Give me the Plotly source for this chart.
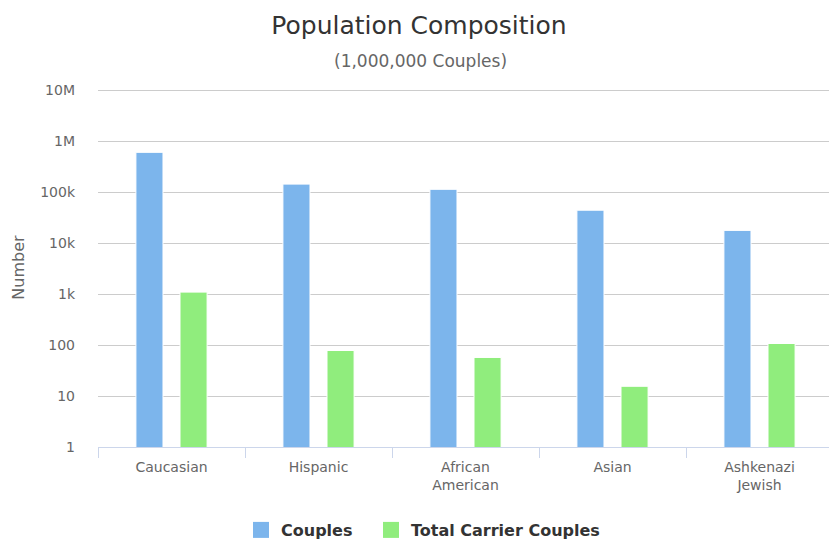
import plotly.graph_objects as go

categories = ["Caucasian", "Hispanic", "African<br>American", "Asian", "Ashkenazi<br>Jewish"]
couples = [600000, 143000, 113000, 44000, 17700]
carrier_couples = [1090, 78, 57, 15.5, 107]
tick_vals = [1, 10, 100, 1000, 10000, 100000, 1000000, 10000000]
tick_text = ["1", "10", "100", "1k", "10k", "100k", "1M", "10M"]

FONT = "DejaVu Sans"
BLUE = "#7cb5ec"
GREEN = "#90ed7d"
W, H = 829, 540
ML, MR, MT, MB = 98, 0, 88, 93
Y_TOP = 7.04  # a little headroom so the 10M gridline is drawn

fig = go.Figure()
fig.add_trace(go.Bar(x=categories, y=couples, name="Couples", marker_color=BLUE,
                     marker_line=dict(color="white", width=1), showlegend=False))
fig.add_trace(go.Bar(x=categories, y=carrier_couples, name="Total Carrier Couples",
                     marker_color=GREEN, marker_line=dict(color="white", width=1),
                     showlegend=False))
# legend proxies (larger square icons), one legend box each for exact spacing
fig.add_trace(go.Scatter(x=[None], y=[None], mode="markers", name="Couples",
                         marker=dict(symbol="square", size=22, color=BLUE), legend="legend"))
fig.add_trace(go.Scatter(x=[None], y=[None], mode="markers", name="Total Carrier Couples",
                         marker=dict(symbol="square", size=22, color=GREEN), legend="legend2"))

plot_w = W - ML - MR
plot_h = H - MT - MB

legend_common = dict(orientation="h", xref="container", xanchor="left",
                     y=10 / H, yref="container", yanchor="middle",
                     font=dict(family=FONT, size=16, color="#333333", weight="bold"),
                     itemsizing="trace", bgcolor="rgba(0,0,0,0)")

fig.update_layout(
    width=W, height=H,
    margin=dict(l=ML, r=MR, t=MT, b=MB),
    paper_bgcolor="white", plot_bgcolor="white",
    font=dict(family=FONT, color="#666666", size=14),
    title=dict(text="Population Composition", x=419 / W, xref="container", xanchor="center",
               y=1 - 25 / H, yref="container", yanchor="middle",
               font=dict(family=FONT, size=25, color="#333333")),
    barmode="group", bargap=0.4, bargroupgap=0.386,
    showlegend=True,
    legend=dict(x=241 / W, **legend_common),
    legend2=dict(x=371 / W, **legend_common),
)
fig.add_annotation(text="(1,000,000 Couples)", xref="paper", yref="paper",
                   x=(420 - ML) / plot_w, y=1 + (MT - 61) / plot_h,
                   xanchor="center", yanchor="middle", showarrow=False,
                   font=dict(family=FONT, size=17, color="#666666"))

fig.update_xaxes(
    range=[-0.5, 4.5 - 4 / 147],
    showline=True, linecolor="#ccd6eb", linewidth=1,
    ticks="outside", tickson="boundaries", ticklen=10, tickcolor="#ccd6eb",
    ticklabelstandoff=7,
    showgrid=False, tickfont=dict(family=FONT, size=14, color="#666666"),
)
fig.update_yaxes(
    type="log", range=[0, Y_TOP],
    tickvals=tick_vals, ticktext=tick_text,
    showgrid=True, gridcolor="#cccccc", gridwidth=1,
    zeroline=False, showline=False, ticks="",
    ticklabelstandoff=22,
    tickfont=dict(family=FONT, size=14, color="#666666"),
    title=dict(text="Number", font=dict(family=FONT, size=16, color="#666666"), standoff=11),
)

fig.write_html("out.html", config={"displayModeBar": False},
               post_script="document.body.style.margin='0';document.body.style.padding='0';")
